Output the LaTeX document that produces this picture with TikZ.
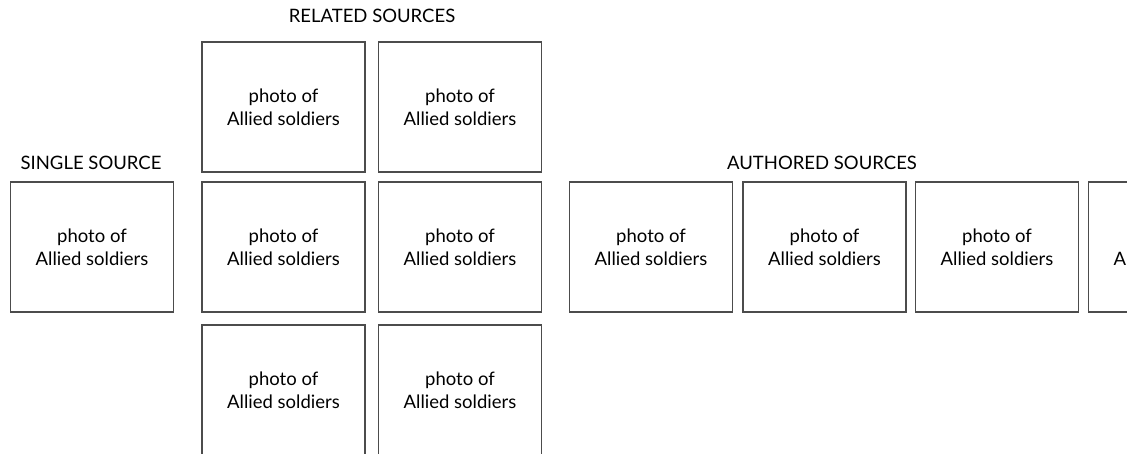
\documentclass[tikz,border=0pt]{standalone}
\usepackage{fontspec}
\setmainfont{Lato}
\begin{document}
\begin{tikzpicture}[x=1pt,y=-1pt,
  photo/.style={draw=black!70, line width=1.1pt, rectangle, minimum width=163pt, minimum height=130pt,
    inner sep=0pt, outer sep=0pt, align=center, font=\fontsize{18.5}{23}\selectfont, text=black},
  heading/.style={font=\fontsize{18.5}{20}\selectfont, text=black, inner sep=0pt}]
\useasboundingbox (0,0) rectangle (1127,454);
\clip (0,0) rectangle (1127,454);
\node[heading] (hs) at (91,163) {SINGLE SOURCE};
\node[heading] (hr) at (372,16) {RELATED SOURCES};
\node[heading] (ha) at (822,163) {AUTHORED SOURCES};
\node[photo] (s) at (92,247) {photo of\\Allied soldiers};
\node[photo] (r11) at (283.5,107) {photo of\\Allied soldiers};
\node[photo] (r12) at (460,107) {photo of\\Allied soldiers};
\node[photo] (r21) at (283.5,247) {photo of\\Allied soldiers};
\node[photo] (r22) at (460,247) {photo of\\Allied soldiers};
\node[photo] (r31) at (283.5,390) {photo of\\Allied soldiers};
\node[photo] (r32) at (460,390) {photo of\\Allied soldiers};
\node[photo] (a1) at (651,247) {photo of\\Allied soldiers};
\node[photo] (a2) at (824.5,247) {photo of\\Allied soldiers};
\node[photo] (a3) at (997,247) {photo of\\Allied soldiers};
\node[photo] (a4) at (1170,247) {photo of\\Allied soldiers};
\end{tikzpicture}
\end{document}
